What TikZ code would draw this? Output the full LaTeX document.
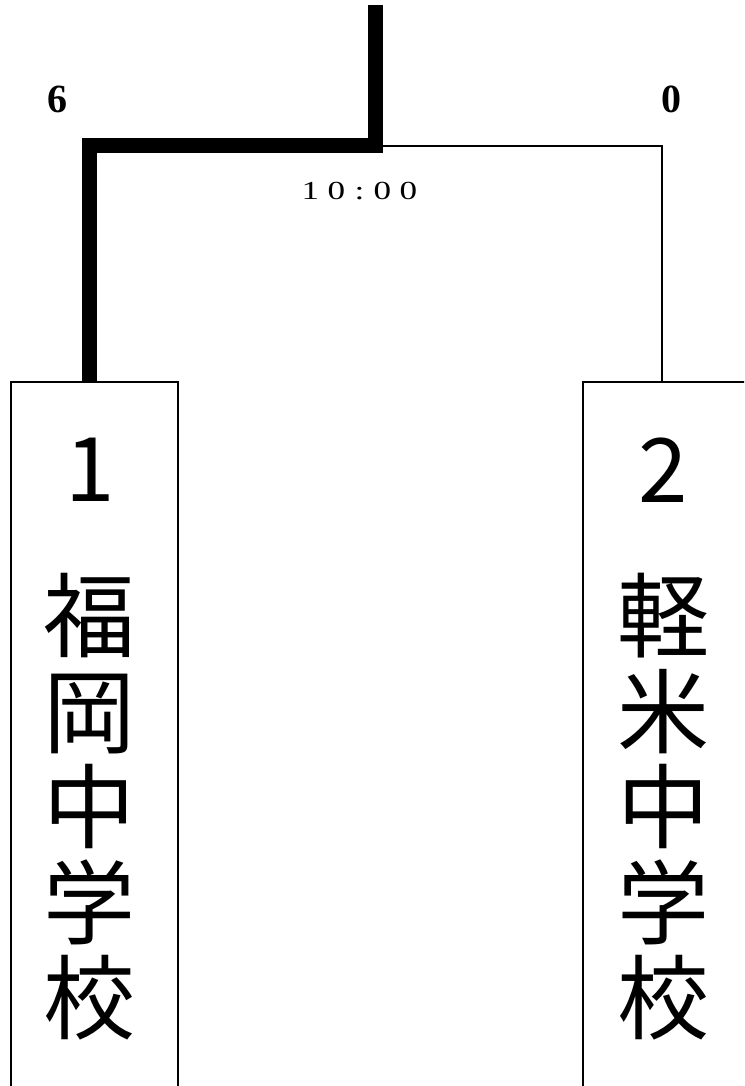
\documentclass[tikz,border=0pt]{standalone}
\usepackage{fontspec}
\newfontfamily\cjk{Noto Sans CJK JP}
\newfontfamily\numfont{Liberation Serif}
\newfontfamily\timefont[FakeStretch=1.35]{Liberation Serif}
\tikzset{
  team/.style={draw, line width=1.3pt, minimum width=167pt, minimum height=720pt, inner sep=0pt},
  winline/.style={line width=15pt},
  loseline/.style={line width=1.3pt},
  score/.style={inner sep=0pt, font=\numfont\fontsize{40}{42}\selectfont\bfseries},
  seed/.style={inner sep=0pt, font=\cjk\fontsize{89}{90}\selectfont},
  school/.style={inner sep=0pt, align=center, font=\cjk\fontsize{92}{95.5}\selectfont}
}
\begin{document}
\begin{tikzpicture}[x=1pt,y=-1pt]
\useasboundingbox (0,0) rectangle (744,1086);
\clip (0,0) rectangle (744,1086);
\node[team] (box1) at (94.5,742) {};
\node[team] (box2) at (666.5,742) {};
\node[seed] (n1) at (90,470) {1};
\node[seed] (n2) at (663,470) {2};
\node[school] (t1) at (89,807) {福\\岡\\中\\学\\校};
\node[school] (t2) at (663,807) {軽\\米\\中\\学\\校};
\coordinate (top) at (375,5);
\coordinate (mid) at (375,146);
\draw[loseline] (mid) -| ([xshift=-4.5pt]box2.north);
\draw[winline] (top) -- (mid) -| ([xshift=-5pt]box1.north);
\node[score] (s1) at (57,99.5) {6};
\node[score] (s2) at (671,99.5) {0};
\node[inner sep=0pt, font=\timefont\fontsize{26}{28}\selectfont] (time) at (359.5,191.5)
  {\makebox[26pt]{1}\makebox[26pt]{0}\makebox[20pt]{:}\makebox[26pt]{0}\makebox[26pt]{0}};
\end{tikzpicture}
\end{document}
